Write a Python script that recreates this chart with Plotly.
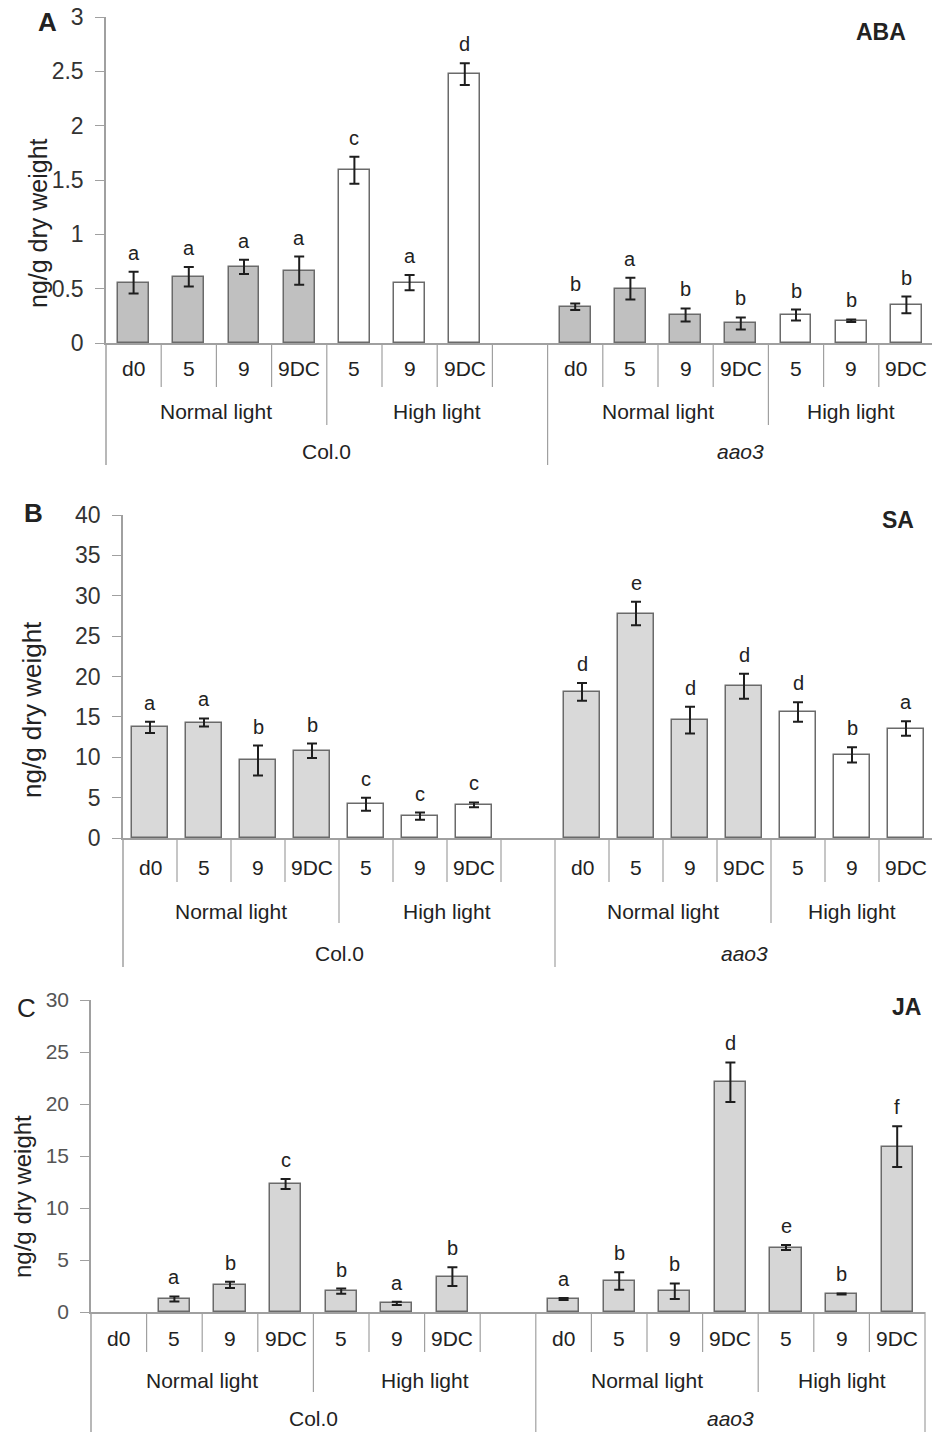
import plotly.graph_objects as go

W, H = 932, 1435

# ---------------- data ----------------
conditions = ["d0", "5", "9", "9DC", "5", "9", "9DC"]
light_labels = ["Normal light", "High light"]
genotypes = ["Col.0", "aao3"]

aba_col = [0.555, 0.61, 0.70, 0.665, 1.59, 0.555, 2.475]
aba_col_err = [0.10, 0.09, 0.065, 0.13, 0.125, 0.07, 0.10]
aba_col_let = ["a", "a", "a", "a", "c", "a", "d"]
aba_aao = [0.334, 0.50, 0.258, 0.18, 0.258, 0.205, 0.35]
aba_aao_err = [0.03, 0.10, 0.06, 0.055, 0.05, 0.012, 0.077]
aba_aao_let = ["b", "a", "b", "b", "b", "b", "b"]

sa_col = [13.7, 14.3, 9.6, 10.8, 4.17, 2.7, 4.1]
sa_col_err = [0.7, 0.5, 1.85, 0.9, 0.8, 0.45, 0.3]
sa_col_let = ["a", "a", "b", "b", "c", "c", "c"]
sa_aao = [18.1, 27.8, 14.6, 18.8, 15.6, 10.3, 13.55]
sa_aao_err = [1.1, 1.45, 1.65, 1.55, 1.2, 0.95, 0.9]
sa_aao_let = ["d", "e", "d", "d", "d", "b", "a"]

ja_col = [None, 1.25, 2.6, 12.3, 2.0, 0.83, 3.4]
ja_col_err = [None, 0.25, 0.3, 0.48, 0.25, 0.15, 0.9]
ja_col_let = ["", "a", "b", "c", "b", "a", "b"]
ja_aao = [1.25, 2.98, 2.0, 22.1, 6.2, 1.73, 15.9]
ja_aao_err = [0.1, 0.85, 0.75, 1.9, 0.25, 0.05, 1.95]
ja_aao_let = ["a", "b", "b", "d", "e", "b", "f"]


def px(xp):
    return xp / W


def py(yp):
    return 1 - yp / H


panels = [
    dict(key="A", name="ABA", col=aba_col, colerr=aba_col_err, collet=aba_col_let,
         aao=aba_aao, aaoerr=aba_aao_err, aaolet=aba_aao_let,
         x0=106, x1=932, slot=55.2, ytop=17, ybot=343, ymax=3, dtick=0.5,
         cat_y=369, light_y=411, grp_y=451, short_b=387, long_b=425, grp_b=465,
         normal_fill="#c0c0c0", high_fill="#ffffff", bw=0.56,
         tickfs=23, tickcol="#333333",
         lab_xy=(47, 22), name_xy=(881, 32), ytitle_xy=(38, 223), ytfs=25,
         right_line=False, lab_bold=True),
    dict(key="B", name="SA", col=sa_col, colerr=sa_col_err, collet=sa_col_let,
         aao=sa_aao, aaoerr=sa_aao_err, aaolet=sa_aao_let,
         x0=123, x1=932, slot=54.0, ytop=515, ybot=838, ymax=40, dtick=5,
         cat_y=867, light_y=911, grp_y=953, short_b=882, long_b=923, grp_b=967,
         normal_fill="#d9d9d9", high_fill="#ffffff", bw=0.68,
         tickfs=23, tickcol="#333333",
         lab_xy=(33, 513), name_xy=(898, 520), ytitle_xy=(32, 710), ytfs=26,
         right_line=False, lab_bold=True),
    dict(key="C", name="JA", col=ja_col, colerr=ja_col_err, collet=ja_col_let,
         aao=ja_aao, aaoerr=ja_aao_err, aaolet=ja_aao_let,
         x0=91, x1=925, slot=55.6, ytop=1000, ybot=1312, ymax=30, dtick=5,
         cat_y=1338, light_y=1380, grp_y=1418, short_b=1352, long_b=1392, grp_b=1432,
         normal_fill="#d6d6d6", high_fill="#d6d6d6", bw=0.56,
         tickfs=21, tickcol="#555555",
         lab_xy=(26, 1008), name_xy=(906, 1007), ytitle_xy=(22, 1197), ytfs=24,
         right_line=True, lab_bold=False),
]

fig = go.Figure()
annotations = []
shapes = []
FONT = "Liberation Sans, Arial, sans-serif"
TXT = "#222222"
LINE = "#a0a0a0"

col_slots = list(range(0, 7))
aao_slots = list(range(8, 15))

for i, p in enumerate(panels):
    n = "" if i == 0 else str(i + 1)
    xa, ya = "x" + n, "y" + n
    xk, yk = "xaxis" + n, "yaxis" + n
    xmax = -0.5 + (p["x1"] - p["x0"]) / p["slot"]

    slots = col_slots + aao_slots
    vals = p["col"] + p["aao"]
    errs = p["colerr"] + p["aaoerr"]
    lets = p["collet"] + p["aaolet"]
    fills = ([p["normal_fill"]] * 4 + [p["high_fill"]] * 3) * 2

    fig.add_trace(go.Bar(
        x=slots, y=vals, width=p["bw"], xaxis=xa, yaxis=ya,
        marker=dict(color=fills, line=dict(color="#6a6a6a", width=1.5)),
        error_y=dict(type="data", array=[e if e is not None else 0 for e in errs],
                     visible=True, color="#1e1e1e", thickness=2, width=5),
        showlegend=False, hoverinfo="skip"))

    # significance letters
    for s, v, e, l in zip(slots, vals, errs, lets):
        if v is None or not l:
            continue
        annotations.append(dict(x=s, y=v + e, xref=xa, yref=ya, text=l,
                                showarrow=False, yanchor="middle", yshift=19,
                                font=dict(size=20, color=TXT, family=FONT)))

    fig.layout[xk] = dict(domain=[px(p["x0"]), px(p["x1"])], range=[-0.5, xmax],
                          showticklabels=False, ticks="", showgrid=False,
                          zeroline=False, showline=True, linecolor=LINE, linewidth=1.5,
                          anchor=ya, fixedrange=True, automargin=False)
    fig.layout[yk] = dict(domain=[py(p["ybot"]), py(p["ytop"])], range=[0, p["ymax"]],
                          dtick=p["dtick"], tick0=0, ticks="outside", ticklen=9,
                          tickcolor=LINE, tickwidth=1.2, showgrid=False, zeroline=False,
                          showline=True, linecolor=LINE, linewidth=1.5, anchor=xa,
                          tickfont=dict(size=p["tickfs"], color=p["tickcol"], family=FONT),
                          ticklabelstandoff=7, fixedrange=True, automargin=False)

    yb = py(p["ybot"])
    # separators
    for s in [0.5, 1.5, 2.5, 4.5, 5.5, 6.5, 8.5, 9.5, 10.5, 12.5, 13.5]:
        shapes.append(dict(type="line", xref=xa, yref="paper", x0=s, x1=s,
                           y0=yb, y1=py(p["short_b"]), line=dict(color=LINE, width=1.2)))
    for s in [3.5, 11.5]:
        shapes.append(dict(type="line", xref=xa, yref="paper", x0=s, x1=s,
                           y0=yb, y1=py(p["long_b"]), line=dict(color=LINE, width=1.2)))
    shapes.append(dict(type="line", xref=xa, yref="paper", x0=7.5, x1=7.5,
                       y0=yb, y1=py(p["grp_b"]), line=dict(color=LINE, width=1.2)))
    shapes.append(dict(type="line", xref=xa + " domain", yref="paper", x0=0, x1=0,
                       y0=yb, y1=py(p["grp_b"]), line=dict(color=LINE, width=1.5)))
    if p["right_line"]:
        shapes.append(dict(type="line", xref=xa + " domain", yref="paper", x0=1, x1=1,
                           y0=yb, y1=py(p["grp_b"]), line=dict(color=LINE, width=1.2)))

    # category labels
    for s, c in zip(col_slots + aao_slots, conditions + conditions):
        annotations.append(dict(x=s, y=py(p["cat_y"]), xref=xa, yref="paper", text=c,
                                showarrow=False, yanchor="middle", xanchor="center",
                                font=dict(size=21, color=TXT, family=FONT)))
    for cx, lab in zip([1.5, 5.5, 9.5, 13.0], light_labels * 2):
        annotations.append(dict(x=cx, y=py(p["light_y"]), xref=xa, yref="paper", text=lab,
                                showarrow=False, yanchor="middle", xanchor="center",
                                font=dict(size=21, color=TXT, family=FONT)))
    for cx, lab in zip([3.5, 11.0], genotypes):
        t = lab if lab == "Col.0" else "<i>" + lab + "</i>"
        annotations.append(dict(x=cx, y=py(p["grp_y"]), xref=xa, yref="paper", text=t,
                                showarrow=False, yanchor="middle", xanchor="center",
                                font=dict(size=21, color=TXT, family=FONT)))

    # panel letter, hormone name, y title
    lx, ly = p["lab_xy"]
    annotations.append(dict(x=px(lx), y=py(ly), xref="paper", yref="paper",
                            text=("<b>%s</b>" % p["key"]) if p["lab_bold"] else p["key"],
                            showarrow=False, xanchor="center", yanchor="middle",
                            font=dict(size=26, color=TXT, family=FONT)))
    nx, ny = p["name_xy"]
    annotations.append(dict(x=px(nx), y=py(ny), xref="paper", yref="paper",
                            text="<b>%s</b>" % p["name"], showarrow=False,
                            xanchor="center", yanchor="middle",
                            font=dict(size=23, color=TXT, family=FONT)))
    tx, ty = p["ytitle_xy"]
    annotations.append(dict(x=px(tx), y=py(ty), xref="paper", yref="paper",
                            text="ng/g dry weight", textangle=-90, showarrow=False,
                            xanchor="center", yanchor="middle",
                            font=dict(size=p["ytfs"], color=TXT, family=FONT)))

fig.update_layout(width=W, height=H,
                  margin=dict(l=0, r=0, t=0, b=0, pad=0, autoexpand=False),
                  paper_bgcolor="white", plot_bgcolor="white",
                  bargap=0, annotations=annotations, shapes=shapes,
                  font=dict(family=FONT), template="none")

fig.write_html("out.html")
